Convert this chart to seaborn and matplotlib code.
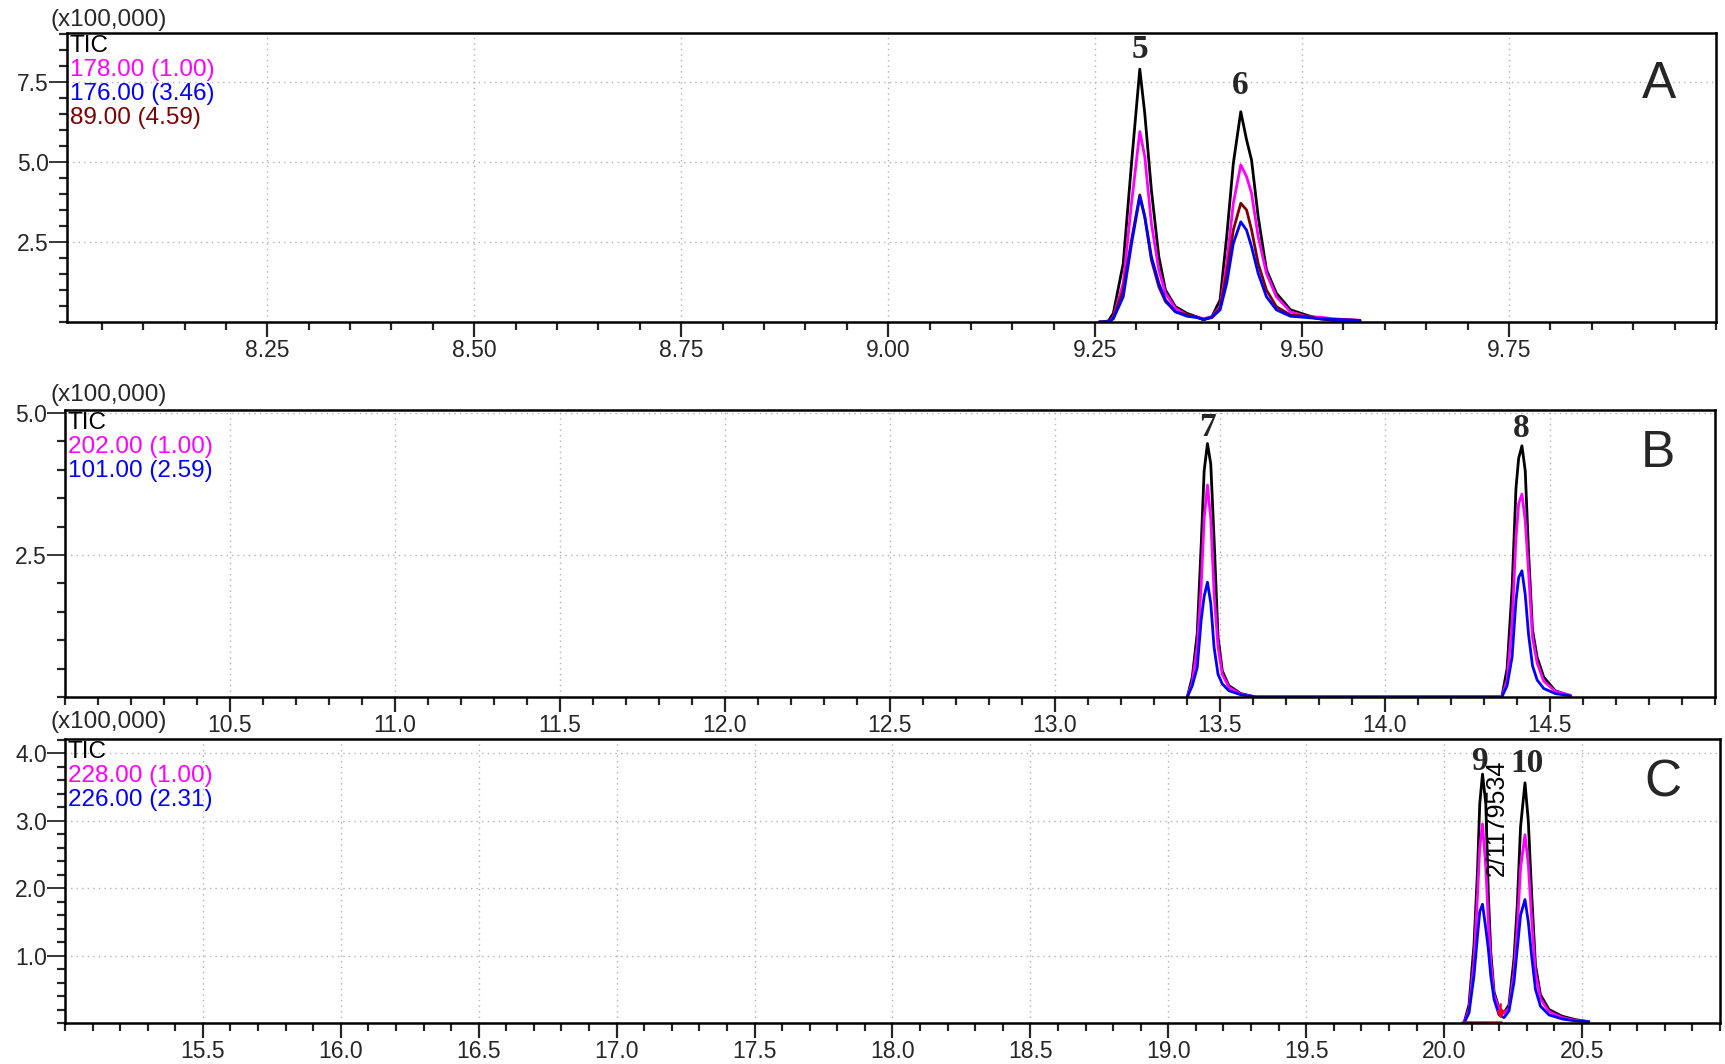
import numpy as np
import pandas as pd
import matplotlib
matplotlib.use('Agg')
import matplotlib.pyplot as plt
from matplotlib.ticker import MultipleLocator, FormatStrFormatter
import seaborn as sns

# --- data (intensity in units of x100,000) ---
# panel A
t_A = [9.255, 9.266, 9.272, 9.284, 9.294, 9.304, 9.310, 9.318, 9.327, 9.335, 9.347,
       9.361, 9.373, 9.381, 9.391, 9.401, 9.409, 9.417, 9.426, 9.433, 9.439, 9.447,
       9.457, 9.469, 9.486, 9.506, 9.522, 9.538, 9.570]
tic_A = [0.0, 0.03, 0.27, 1.83, 4.96, 7.90, 6.52, 4.12, 2.04, 1.00, 0.48,
         0.27, 0.16, 0.07, 0.16, 0.69, 2.67, 4.96, 6.57, 5.69, 5.06, 3.29,
         1.63, 0.90, 0.38, 0.21, 0.10, 0.05, 0.0]
mz178_A = [0.0, 0.0, 0.15, 1.21, 3.71, 5.95, 5.17, 3.08, 1.63, 0.90, 0.43,
           0.22, 0.15, 0.10, 0.17, 0.48, 1.83, 3.71, 4.91, 4.54, 4.02, 2.67,
           1.52, 0.79, 0.32, 0.17, 0.15, 0.10, 0.05]
mz176_A = [0.0, 0.0, 0.10, 0.79, 2.44, 3.92, 3.29, 2.04, 1.21, 0.69, 0.32,
           0.18, 0.14, 0.08, 0.14, 0.38, 1.21, 2.46, 3.13, 2.87, 2.35, 1.52,
           0.79, 0.38, 0.18, 0.14, 0.10, 0.08, 0.05]
mz89_A = [0.0, 0.0, 0.12, 1.00, 2.56, 3.97, 3.29, 1.94, 1.10, 0.64, 0.32,
          0.22, 0.15, 0.08, 0.15, 0.43, 1.52, 2.88, 3.71, 3.50, 2.88, 1.83,
          1.00, 0.48, 0.22, 0.17, 0.10, 0.08, 0.05]

# panel B
t_B = [13.401, 13.416, 13.431, 13.443, 13.452, 13.462, 13.472, 13.482, 13.494,
       13.507, 13.527, 13.563, 13.608,
       14.354, 14.370, 14.385, 14.397, 14.405, 14.415, 14.425, 14.435, 14.447,
       14.461, 14.481, 14.516, 14.562]
tic_B = [0.0, 0.35, 1.12, 2.67, 3.98, 4.46, 4.10, 2.79, 1.06, 0.46, 0.20, 0.06, 0.0,
         0.0, 0.50, 1.90, 3.68, 4.20, 4.42, 3.98, 2.55, 1.18, 0.70, 0.35, 0.11, 0.02]
mz202_B = [0.0, 0.26, 0.88, 1.95, 3.14, 3.73, 3.14, 1.83, 0.88, 0.40, 0.17, 0.05, 0.0,
           0.0, 0.30, 1.30, 2.80, 3.40, 3.57, 3.10, 2.20, 1.05, 0.60, 0.28, 0.10, 0.03]
mz101_B = [0.0, 0.20, 0.52, 1.36, 1.77, 2.02, 1.65, 0.88, 0.40, 0.23, 0.11, 0.04, 0.0,
           0.0, 0.20, 0.70, 1.70, 2.10, 2.22, 1.80, 1.10, 0.55, 0.30, 0.15, 0.06, 0.02]

# panel C
t_C = [20.072, 20.090, 20.108, 20.121, 20.129, 20.139, 20.151, 20.160, 20.169,
       20.181, 20.199, 20.217, 20.235, 20.253, 20.265, 20.277, 20.293, 20.305,
       20.317, 20.331, 20.349, 20.380, 20.428, 20.476, 20.524]
tic_C = [0.0, 0.27, 1.15, 2.27, 3.25, 3.69, 3.25, 1.93, 1.05, 0.46, 0.22, 0.15, 0.27,
         0.95, 1.74, 2.91, 3.56, 3.00, 1.93, 0.86, 0.42, 0.20, 0.10, 0.05, 0.02]
mz228_C = [0.0, 0.20, 0.90, 1.90, 2.60, 2.95, 2.30, 1.50, 0.90, 0.42, 0.20, 0.14, 0.22,
           0.75, 1.40, 2.30, 2.79, 2.35, 1.55, 0.75, 0.36, 0.17, 0.08, 0.04, 0.02]
mz226_C = [0.0, 0.15, 0.70, 1.30, 1.65, 1.76, 1.40, 1.10, 0.70, 0.35, 0.12, 0.08, 0.18,
           0.60, 1.10, 1.60, 1.83, 1.50, 1.00, 0.50, 0.25, 0.12, 0.06, 0.03, 0.02]

legend_A = ['TIC', '178.00 (1.00)', '176.00 (3.46)', '89.00 (4.59)']
legend_B = ['TIC', '202.00 (1.00)', '101.00 (2.59)']
legend_C = ['TIC', '228.00 (1.00)', '226.00 (2.31)']

peaks_A = [('5', 9.304, 8.5), ('6', 9.425, 7.4)]
peaks_B = [('7', 13.462, 4.74), ('8', 14.412, 4.72)]
peaks_C = [('9', 20.127, 3.87), ('10', 20.300, 3.85)]

BLACK, MAG, BLUE, BROWN = '#000000', '#ff00ff', '#0000ff', '#800000'

sns.set_style('ticks')
plt.rcParams['font.family'] = ['Liberation Sans', 'DejaVu Sans']

fig = plt.figure(figsize=(17.25, 10.64), dpi=100)
axA = fig.add_axes([0.03884, 0.69737, 0.9559, 0.27162])
axB = fig.add_axes([0.03768, 0.34492, 0.95652, 0.26974])
axC = fig.add_axes([0.03768, 0.03853, 0.95942, 0.26692])


def draw(ax, t, traces):
    for vals, col in traces:
        sns.lineplot(x=t, y=vals, ax=ax, color=col, linewidth=2.0, sort=False)


draw(axA, t_A, [(tic_A, BLACK), (mz178_A, MAG), (mz89_A, BROWN), (mz176_A, BLUE)])
draw(axB, t_B, [(tic_B, BLACK), (mz202_B, MAG), (mz101_B, BLUE)])
draw(axC, t_C, [(tic_C, BLACK), (mz228_C, MAG), (mz226_C, BLUE)])

# red integration baseline / marker in C
axC.plot([20.066, 20.205], [0.02, 0.02], color='red', lw=1.8)
axC.annotate('', xy=(20.205, 0.02), xytext=(20.205, 0.32),
             arrowprops=dict(arrowstyle='->', color='red', lw=1.6))
axC.text(20.19, 3.04, '2/1179534', rotation=90, ha='center', va='center',
         fontsize=18, color='black')

setup = [
    (axA, (8.008, 10.0), (0, 9.03), [8.25, 8.5, 8.75, 9.0, 9.25, 9.5, 9.75], 0.05,
     [2.5, 5.0, 7.5], 0.5, '%.2f', legend_A, [BLACK, MAG, BLUE, BROWN], peaks_A, 'A', 0.8235),
    (axB, (10.0, 15.0), (0, 5.05), list(np.arange(10.5, 14.6, 0.5)), 0.1,
     [2.5, 5.0], 0.5, '%.1f', legend_B, [BLACK, MAG, BLUE], peaks_B, 'B', 0.85),
    (axC, (15.0, 21.0), (0, 4.21), list(np.arange(15.5, 20.6, 0.5)), 0.1,
     [1.0, 2.0, 3.0, 4.0], 0.2, '%.1f', legend_C, [BLACK, MAG, BLUE], peaks_C, 'C', 0.845),
]

for ax, xl, yl, xt, xminor, yt, yminor, xfmt, leg, cols, peaks, letter, ly in setup:
    ax.set_xlim(*xl)
    ax.set_ylim(*yl)
    ax.set_xticks(xt)
    ax.set_yticks(yt)
    ax.xaxis.set_minor_locator(MultipleLocator(xminor))
    ax.yaxis.set_minor_locator(MultipleLocator(yminor))
    ax.xaxis.set_major_formatter(FormatStrFormatter(xfmt))
    ax.yaxis.set_major_formatter(FormatStrFormatter('%.1f'))
    ax.set_xlabel('')
    ax.set_ylabel('')
    ax.grid(True, which='major', ls=(0, (1, 3)), color='#b0b0b0', lw=1.0)
    for s in ax.spines.values():
        s.set_visible(True)
        s.set_linewidth(1.8)
        s.set_color('black')
    ax.tick_params(axis='x', which='major', length=11, width=1.6, pad=1, labelsize=16.5)
    ax.tick_params(axis='y', which='major', length=13, width=1.3, pad=0, labelsize=16.5)
    ax.tick_params(which='minor', length=5.5, width=1.6)
    for i, (txt, c) in enumerate(zip(leg, cols)):
        ax.annotate(txt, xy=(0, 1), xycoords='axes fraction', xytext=(3, -13 - 24 * i),
                    textcoords='offset pixels', va='center', ha='left', fontsize=17.5, color=c)
    for lab, px, py in peaks:
        ax.text(px, py, lab, ha='center', va='center', fontsize=24, fontweight='bold',
                family=['Liberation Serif', 'DejaVu Serif'])
    ax.text(0.9654, ly, letter, transform=ax.transAxes, ha='center', va='center',
            fontsize=37)

for yy in [20, 395, 722]:
    fig.text(50 / 1725, 1 - yy / 1064, '(x100,000)', ha='left', va='center', fontsize=17.5)

fig.savefig('out.png', dpi=100)
